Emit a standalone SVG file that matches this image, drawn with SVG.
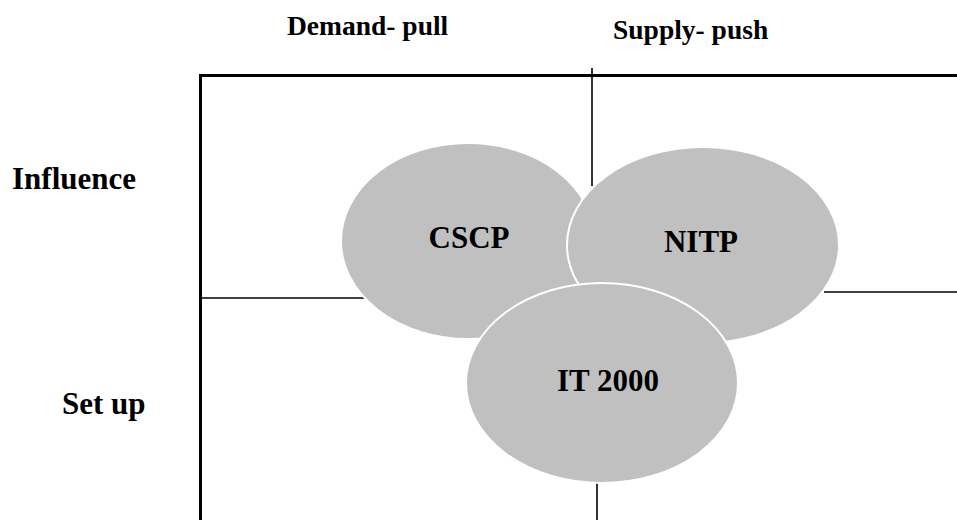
<svg xmlns="http://www.w3.org/2000/svg" width="957" height="520" viewBox="0 0 957 520">
  <style>
    .label { font-family: "Liberation Serif", "Times New Roman", serif; font-weight: bold; fill: #000; }
    .head { font-size: 27.5px; }
    .big { font-size: 31px; }
    .bubble { fill: #c0c0c0; stroke: #fff; stroke-width: 2; }
    .frame { fill: none; stroke: #000; stroke-width: 3; }
    .rule { stroke: #000; stroke-width: 1.6; fill: none; }
  </style>
  <rect width="957" height="520" fill="#fff"/>

  <!-- column and row headings -->
  <g id="headings">
    <text class="label head" x="287" y="35">Demand- pull</text>
    <text class="label head" x="613" y="39">Supply- push</text>
    <text class="label big" x="12" y="189">Influence</text>
    <text class="label big" x="62" y="414">Set up</text>
  </g>

  <!-- quadrant frame and dividers -->
  <g id="connectors">
    <path class="frame" d="M200.5 520 V75.5 H960"/>
    <line class="rule" x1="592" y1="68" x2="592" y2="186"/>
    <line class="rule" x1="200" y1="298" x2="366" y2="298"/>
    <line class="rule" x1="824" y1="292" x2="957" y2="292"/>
    <line class="rule" x1="597" y1="483" x2="597" y2="520"/>
  </g>

  <g id="cscp">
    <ellipse class="bubble" cx="468" cy="241" rx="127" ry="98"/>
    <text class="label big" x="469" y="248" text-anchor="middle">CSCP</text>
  </g>

  <g id="nitp">
    <ellipse class="bubble" cx="703" cy="245" rx="136" ry="98"/>
    <text class="label big" x="701" y="252" text-anchor="middle">NITP</text>
  </g>

  <g id="it2000">
    <ellipse class="bubble" cx="602" cy="383" rx="136" ry="100"/>
    <text class="label big" x="608" y="391" text-anchor="middle">IT 2000</text>
  </g>
</svg>
